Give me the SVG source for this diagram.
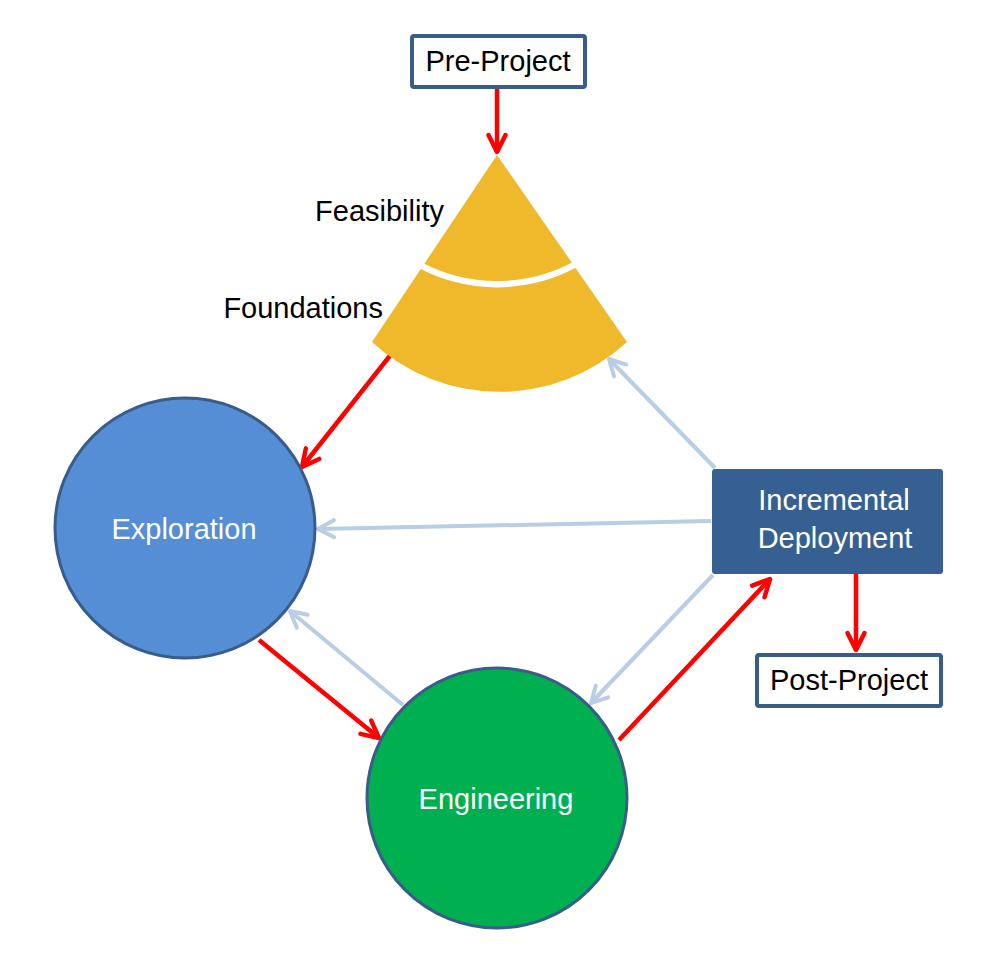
<svg xmlns="http://www.w3.org/2000/svg" width="998" height="978" viewBox="0 0 998 978">
  <style>
    .lbl { font-family: "Liberation Sans", Arial, sans-serif; font-size: 29px; }
    .dark { fill: #000000; }
    .light { fill: #ffffff; }
    .red { stroke: #ff0000; stroke-width: 4.5; fill: none; marker-end: url(#redHead); }
    .blue { stroke: #b9cde5; stroke-width: 4; fill: none; marker-end: url(#blueHead); }
    .box { fill: #ffffff; stroke: #385d8a; stroke-width: 4; }
    .circ { stroke: #385d8a; stroke-width: 3; }
  </style>
  <defs>
    <marker id="redHead" markerUnits="userSpaceOnUse" viewBox="-22 -12 26 24" refX="0" refY="0" markerWidth="26" markerHeight="24" orient="auto" overflow="visible">
      <path d="M-17,-8.5 L0,0 L-17,8.5" fill="none" stroke="#ff0000" stroke-width="4.5" stroke-linecap="round" stroke-linejoin="round"/>
    </marker>
    <marker id="blueHead" markerUnits="userSpaceOnUse" viewBox="-22 -12 26 24" refX="0" refY="0" markerWidth="26" markerHeight="24" orient="auto" overflow="visible">
      <path d="M-16,-8.5 L0,0 L-16,8.5" fill="none" stroke="#b9cde5" stroke-width="4" stroke-linecap="round" stroke-linejoin="round"/>
    </marker>
  </defs>

  <g id="connectors">
    <line class="red" x1="497" y1="89" x2="497" y2="152"/>
    <line class="red" x1="400" y1="343" x2="302" y2="467"/>
    <line class="red" x1="259" y1="640" x2="379" y2="738"/>
    <line class="red" x1="619" y1="740" x2="770" y2="579"/>
    <line class="red" x1="856" y1="574" x2="856" y2="650"/>
    <line class="blue" x1="715" y1="468" x2="609" y2="359"/>
    <line class="blue" x1="711" y1="521" x2="318" y2="529"/>
    <line class="blue" x1="403" y1="705" x2="290" y2="611"/>
    <line class="blue" x1="713" y1="575" x2="591" y2="703"/>
  </g>

  <g id="pre-project">
    <rect class="box" x="412" y="36" width="173" height="51" rx="2"/>
    <text class="lbl dark" x="498" y="71" text-anchor="middle">Pre-Project</text>
  </g>

  <g id="feasibility-foundations">
    <path d="M497,155 L627,342 A188,188 0 0 1 372,342 Z" fill="#f0b82b"/>
    <path d="M418,264 A165,165 0 0 0 576,264" fill="none" stroke="#ffffff" stroke-width="6.5"/>
    <text class="lbl dark" x="444" y="221" text-anchor="end">Feasibility</text>
    <text class="lbl dark" x="383" y="318" text-anchor="end">Foundations</text>
  </g>

  <g id="exploration">
    <circle class="circ" cx="185" cy="528" r="130" fill="#558ed5"/>
    <text class="lbl light" x="184" y="539" text-anchor="middle">Exploration</text>
  </g>

  <g id="engineering">
    <circle class="circ" cx="497" cy="798" r="130" fill="#00b050"/>
    <text class="lbl light" x="496" y="809" text-anchor="middle">Engineering</text>
  </g>

  <g id="incremental-deployment">
    <rect x="712" y="469" width="231" height="105" rx="3" fill="#376092"/>
    <text class="lbl light" x="834" y="510" text-anchor="middle">Incremental</text>
    <text class="lbl light" x="835" y="548" text-anchor="middle">Deployment</text>
  </g>

  <g id="post-project">
    <rect class="box" x="757" y="655" width="184" height="51" rx="2"/>
    <text class="lbl dark" x="849" y="690" text-anchor="middle">Post-Project</text>
  </g>
</svg>
